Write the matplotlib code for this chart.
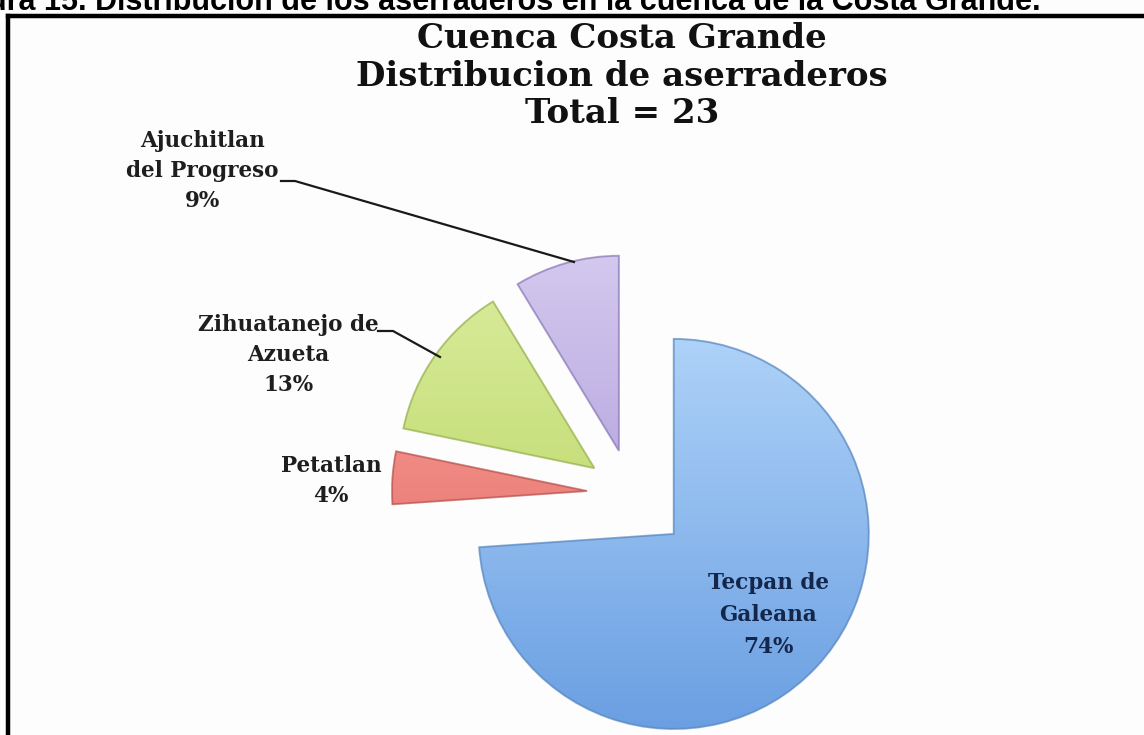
import numpy as np
import matplotlib
matplotlib.use("Agg")
import matplotlib.pyplot as plt
from matplotlib.patches import Wedge
from matplotlib.colors import to_rgb

# Sawmill counts per municipality (Costa Grande basin, total 23)
municipios = ["Tecpan de\nGaleana", "Petatlan", "Zihuatanejo de\nAzueta", "Ajuchitlan\ndel Progreso"]
aserraderos = [17, 1, 3, 2]
porcentajes = ["74%", "4%", "13%", "9%"]

leyenda_figura = "ura 15. Distribución de los aserraderos en la cuenca de la Costa Grande."

# gradient colours (top, bottom) per slice
col_top = ["#aed2f8", "#f7a7a0", "#d9ec9c", "#d3c8ee"]
col_bot = ["#6a9fe2", "#e4625c", "#b5d35c", "#a793d6"]
col_edge = ["#5a88c0", "#b85450", "#98b050", "#8c7bb8"]
separacion = [0.30, 0.226, 0.23, 0.23]   # fraction of the radius

W, H = 1144, 735
fig = plt.figure(figsize=(W / 100, H / 100), dpi=100)
fig.patch.set_facecolor("#fdfdfd")
ax = fig.add_axes([0, 0, 1, 1])

R = 195
centro = (631, H - 494)
wedges, _ = ax.pie(aserraderos, radius=R, center=centro, startangle=90,
                   counterclock=False, explode=[s * R for s in separacion],
                   frame=True, wedgeprops=dict(linewidth=0))

for w, ct, cb, ce in zip(wedges, col_top, col_bot, col_edge):
    w.set_facecolor(cb)
    cx, cy = w.center
    t = np.linspace(0, 1, 256)[:, None]
    a = np.array(to_rgb(ct))
    b = np.array(to_rgb(cb))
    img = (1 - t)[..., None] * a + t[..., None] * b
    img = np.repeat(img, 4, axis=1)
    im = ax.imshow(img, extent=[cx - w.r, cx + w.r, cy - w.r, cy + w.r],
                   origin="upper", interpolation="bilinear", zorder=2,
                   aspect="auto")
    im.set_clip_path(w)
    ax.add_patch(Wedge((cx, cy), w.r, w.theta1, w.theta2, fill=False,
                       edgecolor=ce, linewidth=1.4, alpha=0.7, zorder=3))

ax.set_xlim(0, W)
ax.set_ylim(0, H)
ax.set_aspect("equal")
ax.set_axis_off()

serif = ["DejaVu Serif"]
tit_kw = dict(ha="center", va="center", fontsize=24.5, fontweight="bold",
              family=serif, color="#111111")
ax.text(622, H - 38, "Cuenca Costa Grande", **tit_kw)
ax.text(622, H - 76, "Distribucion de aserraderos", **tit_kw)
ax.text(622, H - 113, "Total = 23", **tit_kw)

lab_kw = dict(ha="center", va="center", fontsize=15.5, fontweight="bold",
              family=serif, color="#1e1e1e", linespacing=1.45)
ax.text(202, H - 171, municipios[3] + "\n" + porcentajes[3], **lab_kw)
ax.text(288, H - 355, municipios[2] + "\n" + porcentajes[2], **lab_kw)
ax.text(331, H - 481, municipios[1] + "\n" + porcentajes[1], **lab_kw)
ax.text(768, H - 615, municipios[0] + "\n" + porcentajes[0],
        **{**lab_kw, "color": "#14264a", "linespacing": 1.6})

# leader lines
ax.plot([281, 295, 574], [H - 181, H - 181, H - 262], color="#1a1a1a", lw=1.6, zorder=4)
ax.plot([378, 393, 440], [H - 331, H - 331, H - 357], color="#1a1a1a", lw=1.6, zorder=4)

# frame around the chart and caption above it
ax.plot([8, 8], [0, H - 16], color="black", lw=3.2, solid_capstyle="projecting")
ax.plot([8, W], [H - 16, H - 16], color="black", lw=3.2, solid_capstyle="projecting")
ax.text(-12, H - 10, leyenda_figura, ha="left", va="baseline", fontsize=22,
        fontweight="bold", family=["Liberation Sans"], color="black")

fig.savefig("out.png", dpi=100, facecolor=fig.get_facecolor())
